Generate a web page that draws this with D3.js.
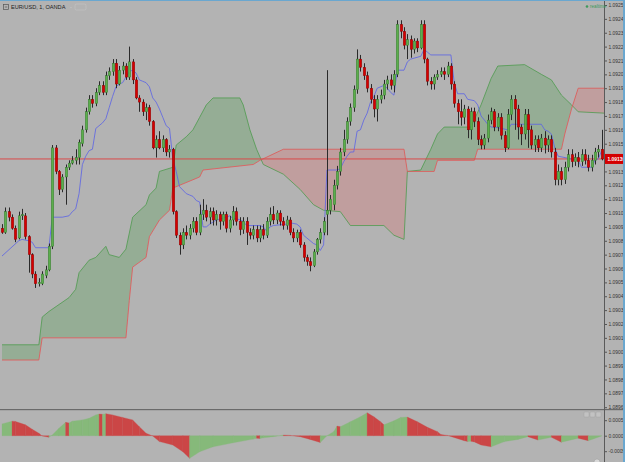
<!DOCTYPE html>
<html>
<head>
<meta charset="utf-8">
<script src="https://cdnjs.cloudflare.com/ajax/libs/d3/7.8.5/d3.min.js"></script>
<style>
  html, body { margin: 0; padding: 0; background: #b3b3b3; }
  svg { display: block; font-family: "Liberation Sans", Arial, sans-serif; }
</style>
</head>
<body>
<svg id="chart"></svg>
<script>
// EUR/USD 1 minute candles (OANDA)
const opens = [
  1.09089,1.09086,1.09101,1.09097,1.09089,1.09082,1.09098,1.09098,1.09083,1.09070,
  1.09056,1.09049,1.09049,1.09055,1.09059,1.09076,1.09147,1.09130,1.09117,1.09126,
  1.09133,1.09136,1.09138,1.09140,1.09150,1.09160,1.09173,1.09182,1.09179,1.09187,
  1.09192,1.09187,1.09199,1.09202,1.09208,1.09193,1.09203,1.09206,1.09198,1.09209,
  1.09196,1.09183,1.09180,1.09173,1.09176,1.09166,1.09147,1.09153,1.09147,1.09153,
  1.09144,1.09146,1.09101,1.09084,1.09077,1.09086,1.09084,1.09089,1.09094,1.09086,
  1.09099,1.09102,1.09097,1.09101,1.09095,1.09099,1.09094,1.09099,1.09089,1.09095,
  1.09101,1.09094,1.09088,1.09094,1.09086,1.09084,1.09088,1.09082,1.09088,1.09084,
  1.09094,1.09099,1.09095,1.09100,1.09094,1.09091,1.09095,1.09086,1.09082,1.09086,
  1.09077,1.09068,1.09065,1.09062,1.09072,1.09081,1.09086,1.09099,1.09102,1.09106,
  1.09120,1.09130,1.09144,1.09153,1.09166,1.09176,1.09189,1.09211,1.09205,1.09199,
  1.09190,1.09182,1.09175,1.09182,1.09185,1.09193,1.09196,1.09192,1.09200,1.09236,
  1.09231,1.09221,1.09225,1.09218,1.09224,1.09219,1.09236,1.09211,1.09195,1.09193,
  1.09198,1.09200,1.09202,1.09200,1.09206,1.09193,1.09179,1.09173,1.09169,1.09175,
  1.09160,1.09173,1.09166,1.09153,1.09149,1.09154,1.09167,1.09173,1.09162,1.09169,
  1.09156,1.09147,1.09171,1.09182,1.09175,1.09162,1.09157,1.09171,1.09160,1.09149,
  1.09153,1.09147,1.09154,1.09149,1.09153,1.09144,1.09124,1.09130,1.09124,1.09133,
  1.09142,1.09137,1.09140,1.09137,1.09142,1.09138,1.09133,1.09138,1.09144,1.09146
];
const closes = [
  1.09086,1.09101,1.09097,1.09089,1.09081,1.09098,1.09099,1.09083,1.09070,1.09056,
  1.09049,1.09050,1.09056,1.09059,1.09076,1.09147,1.09130,1.09117,1.09126,1.09133,
  1.09136,1.09138,1.09140,1.09151,1.09160,1.09173,1.09182,1.09179,1.09187,1.09192,
  1.09187,1.09199,1.09202,1.09208,1.09193,1.09203,1.09206,1.09198,1.09209,1.09196,
  1.09183,1.09180,1.09173,1.09176,1.09166,1.09147,1.09153,1.09147,1.09153,1.09144,
  1.09146,1.09101,1.09084,1.09077,1.09086,1.09084,1.09089,1.09094,1.09086,1.09099,
  1.09102,1.09097,1.09101,1.09095,1.09099,1.09094,1.09099,1.09089,1.09095,1.09101,
  1.09094,1.09088,1.09094,1.09086,1.09084,1.09088,1.09082,1.09088,1.09084,1.09094,
  1.09099,1.09095,1.09100,1.09094,1.09091,1.09095,1.09086,1.09082,1.09086,1.09077,
  1.09068,1.09065,1.09062,1.09072,1.09081,1.09086,1.09094,1.09102,1.09110,1.09120,
  1.09130,1.09144,1.09153,1.09166,1.09176,1.09189,1.09211,1.09205,1.09199,1.09190,
  1.09182,1.09175,1.09182,1.09185,1.09193,1.09196,1.09192,1.09200,1.09236,1.09231,
  1.09221,1.09225,1.09218,1.09224,1.09219,1.09236,1.09211,1.09195,1.09193,1.09198,
  1.09200,1.09202,1.09200,1.09206,1.09193,1.09179,1.09173,1.09169,1.09175,1.09160,
  1.09173,1.09166,1.09153,1.09149,1.09154,1.09167,1.09173,1.09162,1.09169,1.09156,
  1.09147,1.09171,1.09182,1.09175,1.09162,1.09157,1.09171,1.09160,1.09149,1.09153,
  1.09147,1.09154,1.09149,1.09153,1.09144,1.09124,1.09130,1.09124,1.09133,1.09142,
  1.09137,1.09140,1.09137,1.09142,1.09138,1.09133,1.09138,1.09144,1.09146,1.09139
];
const highs = [
  1.09092,1.09104,1.09104,1.09099,1.09091,1.09101,1.09103,1.09100,1.09084,1.09071,
  1.09058,1.09053,1.09058,1.09062,1.09078,1.09149,1.09149,1.09131,1.09128,1.09135,
  1.09138,1.09141,1.09146,1.09153,1.09163,1.09176,1.09185,1.09185,1.09190,1.09195,
  1.09195,1.09202,1.09205,1.09211,1.09211,1.09206,1.09209,1.09208,1.09220,1.09211,
  1.09198,1.09185,1.09182,1.09179,1.09178,1.09167,1.09156,1.09159,1.09156,1.09154,
  1.09149,1.09147,1.09102,1.09086,1.09089,1.09091,1.09092,1.09097,1.09097,1.09106,
  1.09110,1.09106,1.09104,1.09104,1.09102,1.09101,1.09101,1.09101,1.09098,1.09105,
  1.09104,1.09097,1.09097,1.09097,1.09089,1.09091,1.09091,1.09091,1.09092,1.09097,
  1.09104,1.09105,1.09102,1.09102,1.09097,1.09098,1.09097,1.09089,1.09088,1.09088,
  1.09079,1.09070,1.09068,1.09074,1.09082,1.09089,1.09097,1.09203,1.09113,1.09124,
  1.09134,1.09147,1.09160,1.09169,1.09179,1.09192,1.09218,1.09214,1.09208,1.09202,
  1.09193,1.09185,1.09185,1.09189,1.09196,1.09199,1.09200,1.09203,1.09239,1.09239,
  1.09234,1.09229,1.09228,1.09226,1.09226,1.09239,1.09239,1.09212,1.09198,1.09200,
  1.09203,1.09205,1.09205,1.09209,1.09208,1.09195,1.09182,1.09182,1.09178,1.09177,
  1.09176,1.09176,1.09169,1.09156,1.09157,1.09171,1.09176,1.09175,1.09172,1.09172,
  1.09159,1.09175,1.09185,1.09185,1.09178,1.09164,1.09175,1.09175,1.09163,1.09156,
  1.09156,1.09157,1.09159,1.09156,1.09156,1.09147,1.09135,1.09133,1.09137,1.09146,
  1.09146,1.09143,1.09144,1.09146,1.09146,1.09142,1.09142,1.09147,1.09149,1.09160
];
const lows = [
  1.09085,1.09085,1.09094,1.09088,1.09079,1.09081,1.09095,1.09081,1.09057,1.09053,
  1.09046,1.09047,1.09048,1.09053,1.09058,1.09074,1.09128,1.09113,1.09115,1.09106,
  1.09131,1.09135,1.09135,1.09135,1.09148,1.09158,1.09171,1.09176,1.09177,1.09185,
  1.09185,1.09185,1.09196,1.09199,1.09190,1.09192,1.09200,1.09196,1.09196,1.09193,
  1.09182,1.09173,1.09170,1.09167,1.09163,1.09146,1.09140,1.09146,1.09144,1.09141,
  1.09140,1.09099,1.09082,1.09070,1.09074,1.09081,1.09081,1.09086,1.09084,1.09084,
  1.09095,1.09094,1.09092,1.09091,1.09091,1.09088,1.09091,1.09086,1.09086,1.09091,
  1.09091,1.09084,1.09085,1.09077,1.09081,1.09081,1.09079,1.09079,1.09081,1.09082,
  1.09091,1.09092,1.09092,1.09091,1.09088,1.09088,1.09084,1.09079,1.09079,1.09075,
  1.09065,1.09062,1.09058,1.09061,1.09070,1.09078,1.09084,1.09084,1.09099,1.09102,
  1.09117,1.09127,1.09141,1.09150,1.09163,1.09173,1.09186,1.09202,1.09196,1.09187,
  1.09179,1.09169,1.09166,1.09179,1.09182,1.09189,1.09189,1.09187,1.09198,1.09226,
  1.09218,1.09211,1.09212,1.09215,1.09216,1.09218,1.09208,1.09192,1.09189,1.09189,
  1.09196,1.09198,1.09196,1.09198,1.09189,1.09176,1.09164,1.09163,1.09164,1.09154,
  1.09153,1.09162,1.09149,1.09146,1.09146,1.09151,1.09164,1.09159,1.09159,1.09153,
  1.09144,1.09146,1.09167,1.09160,1.09153,1.09149,1.09153,1.09147,1.09146,1.09144,
  1.09144,1.09144,1.09143,1.09144,1.09140,1.09120,1.09120,1.09120,1.09121,1.09130,
  1.09133,1.09134,1.09133,1.09134,1.09135,1.09130,1.09130,1.09135,1.09140,1.09138
];

// Ichimoku: conversion line and the two leading spans, [bar, price]
const tenkan = [
  [0,1.09069],[5,1.09080],[6,1.09081],[8,1.09080],[9,1.09079],[10,1.09075],[14,1.09075],[15,1.09097],[18,1.09097],
  [20,1.09098],[21,1.09101],[22,1.09103],[23,1.09114],[24,1.09135],[25,1.09141],[26,1.09145],[27,1.09146],[28,1.09161],
  [30,1.09165],[31,1.09168],[32,1.09176],[33,1.09184],[34,1.09191],[35,1.09193],[36,1.09194],[37,1.09198],[38,1.09202],
  [39,1.09203],[40,1.09201],[41,1.09196],[42,1.09195],[43,1.09194],[44,1.09191],[45,1.09183],[46,1.09180],[47,1.09175],
  [48,1.09169],[49,1.09163],[50,1.09161],[51,1.09139],[52,1.09130],[53,1.09119],[55,1.09114],[56,1.09113],[57,1.09112],
  [58,1.09109],[59,1.09108],[60,1.09090],[61,1.09090],[62,1.09092],[64,1.09095],[67,1.09097],[68,1.09098],[69,1.09096],
  [70,1.09096],[72,1.09094],[73,1.09091],[77,1.09091],[78,1.09090],[79,1.09087],[80,1.09090],[81,1.09091],[85,1.09092],
  [86,1.09093],[88,1.09092],[89,1.09090],[90,1.09084],[91,1.09082],[93,1.09078],[94,1.09077],[95,1.09073],[96,1.09077],
  [97,1.09131],[100,1.09131],[101,1.09132],[102,1.09137],[103,1.09141],[104,1.09144],[105,1.09144],
  [106,1.09159],[107,1.09160],[108,1.09167],[109,1.09172],[110,1.09180],[111,1.09184],[112,1.09190],[114,1.09192],[115,1.09190],
  [116,1.09187],[117,1.09185],[118,1.09203],[120,1.09203],[121,1.09209],[122,1.09211],[125,1.09213],[126,1.09218],[127,1.09216],
  [128,1.09214],[134,1.09214],[135,1.09194],[136,1.09186],[138,1.09186],[139,1.09182],[141,1.09181],[142,1.09178],[143,1.09170],
  [145,1.09164],[146,1.09162],[147,1.09162],[149,1.09161],[151,1.09160],[152,1.09164],[161,1.09164],[162,1.09160],[163,1.09159],
  [164,1.09157],[165,1.09147],[166,1.09141],[170,1.09139],[172,1.09138],[173,1.09133],[176,1.09133],[177,1.09138],[178,1.09139],
  [179,1.09145]
];
const spanA = [
  [0,1.09005],[11,1.09005],[12,1.09025],[14,1.09029],[17,1.09034],[20,1.09039],[22,1.09045],[23,1.09057],[26,1.09066],
  [28,1.09068],[31,1.09076],[32,1.09070],[35,1.09068],[37,1.09074],[39,1.09097],[43,1.09106],[44,1.09113],[46,1.09118],
  [47,1.09130],[51,1.09133],[52,1.09149],[55,1.09155],[57,1.09160],[59,1.09169],[61,1.09178],[63,1.09183],[71,1.09183],
  [72,1.09178],[74,1.09160],[76,1.09146],[78,1.09135],[84,1.09128],[89,1.09117],[93,1.09106],[96,1.09102],[101,1.09101],
  [104,1.09091],[114,1.09091],[117,1.09084],[120,1.09081],[121,1.09130],[125,1.09131],
  [128,1.09146],[130,1.09157],[132,1.09162],[140,1.09162],[143,1.09178],[146,1.09197],[148,1.09206],[156,1.09207],
  [161,1.09200],[164,1.09196],[167,1.09185],[170,1.09178],[172,1.09173],[180,1.09172]
];
const spanB = [
  [0,1.08994],[11,1.08994],[12,1.09010],[37,1.09010],[38,1.09037],[39,1.09061],[43,1.09068],[44,1.09083],[47,1.09095],
  [50,1.09102],[51,1.09118],[59,1.09126],[60,1.09131],[75,1.09135],[77,1.09138],[84,1.09146],[120,1.09146],[121,1.09130],
  [129,1.09130],[130,1.09138],[141,1.09138],[142,1.09146],[167,1.09146],[168,1.09157],[170,1.09175],[172,1.09190],[180,1.09190]
];

// lower pane oscillator, [bar, value]
const osc = [
  [0,0.00038],[3,0.00047],[4,0.00046],[7,0.00035],[9,0.00021],[11,0.00008],[12,-0.00001],[14,-0.00005],[15,0.00002],
  [17,0.00024],[19,0.00043],[20,0.00041],[21,0.00047],[24,0.00051],[26,0.00056],[28,0.00067],[29,0.00070],[30,0.00069],
  [31,0.00071],[33,0.00067],[36,0.00059],[39,0.00051],[41,0.00029],[43,0.00008],[45,-0.00001],[47,-0.00019],[51,-0.00030],
  [54,-0.00052],[56,-0.00073],[59,-0.00052],[63,-0.00036],[69,-0.00023],[75,-0.00011],[76,-0.00008],[77,-0.00009],
  [78,-0.00007],[81,-0.00003],[84,0.00002],[86,0.00001],[89,-0.00003],[92,-0.00012],[95,-0.00022],[97,0.0],[99,0.00013],
  [100,0.00031],[101,0.00029],[104,0.00045],[107,0.00061],[109,0.00074],[111,0.00061],[113,0.00045],[114,0.00035],
  [117,0.00048],[119,0.00059],[121,0.00060],[124,0.00045],[127,0.00027],[130,0.00013],[131,0.00004],[133,0.00001],
  [138,-0.00016],[139,-0.00019],[140,-0.00018],[141,-0.00020],[143,-0.00030],[146,-0.00036],[150,-0.00019],[154,-0.00012],
  [157,-0.00003],[160,-0.00014],[164,-0.00005],[167,-0.00021],[172,-0.00008],[175,-0.00016],[179,-0.00001]
];

const priceTicks = [
  1.0925,1.0924,1.0923,1.0922,1.0921,1.0920,1.0919,1.0918,1.0917,1.0916,
  1.0915,1.0914,1.0913,1.0912,1.0911,1.0910,1.0909,1.0908,1.0907,1.0906,
  1.0905,1.0904,1.0903,1.0902,1.0901,1.0900,1.0899,1.0898,1.0897,1.0896
];
const oscTicks = [0.0005, 0, -0.0005];
const lastPrice = 1.09139;

const W = 625, H = 462;
const plotRight = 604;
const mainBottom = 409;

const svg = d3.select('#chart').attr('width', W).attr('height', H);
const defs = svg.append('defs');

const x = d3.scaleLinear().domain([0, 179]).range([2, 601.65]);
const y = d3.scaleLinear().domain([1.0925, 1.0896]).range([5, 407.2]);
const yOsc = d3.scaleLinear().domain([0.0005, -0.0005]).range([420.2, 451.2]);

svg.append('rect').attr('width', W).attr('height', H).attr('fill', '#b3b3b3');

defs.append('clipPath').attr('id', 'mainClip')
  .append('rect').attr('x', 0).attr('y', 0).attr('width', plotRight).attr('height', mainBottom);
defs.append('clipPath').attr('id', 'oscClip')
  .append('rect').attr('x', 0).attr('y', mainBottom + 1).attr('width', plotRight).attr('height', H - mainBottom);

const main = svg.append('g').attr('clip-path', 'url(#mainClip)');

// cloud: one polygon A -> B reversed, split by the B line
const ptsA = spanA.map(d => [x(d[0]), y(d[1])]);
const ptsB = spanB.map(d => [x(d[0]), y(d[1])]);
const line = d3.line();
const cx0 = ptsB[0][0], cxN = ptsB[ptsB.length - 1][0];
defs.append('clipPath').attr('id', 'aboveB')
  .append('path').attr('d', line([[cx0, 0], ...ptsB, [cxN, 0]]) + 'Z');
defs.append('clipPath').attr('id', 'belowB')
  .append('path').attr('d', line([[cx0, mainBottom], ...ptsB, [cxN, mainBottom]]) + 'Z');
const cloud = line([...ptsA, ...ptsB.slice().reverse()]) + 'Z';

main.append('path').attr('d', cloud).attr('clip-path', 'url(#aboveB)')
  .attr('fill', 'rgba(70,160,70,0.27)');
main.append('path').attr('d', cloud).attr('clip-path', 'url(#belowB)')
  .attr('fill', 'rgba(235,90,90,0.24)');
main.append('path').attr('d', line(ptsA)).attr('fill', 'none')
  .attr('stroke', '#4e9a4e').attr('stroke-width', 0.8);
main.append('path').attr('d', line(ptsB)).attr('fill', 'none')
  .attr('stroke', '#e25656').attr('stroke-width', 0.8);

// last price line
main.append('line')
  .attr('x1', 0).attr('x2', plotRight)
  .attr('y1', y(lastPrice)).attr('y2', y(lastPrice))
  .attr('stroke', '#d94a4a').attr('stroke-width', 1);

// conversion line
main.append('path')
  .attr('d', d3.line().x(d => x(d[0])).y(d => y(d[1]))(tenkan))
  .attr('fill', 'none').attr('stroke', '#5a62e6').attr('stroke-width', 0.8);

// candles
const idx = d3.range(opens.length);
const cxPix = i => Math.round(x(i)) + 0.5;
main.selectAll('.wick').data(idx).join('line')
  .attr('class', 'wick')
  .attr('x1', cxPix).attr('x2', cxPix)
  .attr('y1', i => y(highs[i])).attr('y2', i => y(lows[i]))
  .attr('stroke', '#2a2a2a').attr('stroke-width', 1);
main.selectAll('.body').data(idx).join('rect')
  .attr('class', 'body')
  .attr('x', i => cxPix(i) - 1.25)
  .attr('width', 2.5)
  .attr('y', i => Math.min(y(opens[i]), y(closes[i])))
  .attr('height', i => Math.max(1, Math.abs(y(opens[i]) - y(closes[i]))))
  .attr('fill', i => closes[i] >= opens[i] ? '#5cae4c' : '#d60000')
  .attr('stroke', i => closes[i] >= opens[i] ? '#2f6e2a' : '#7d0000')
  .attr('stroke-width', 0.4);

// lower pane: area coloured by direction
const oscG = svg.append('g').attr('clip-path', 'url(#oscClip)');
const zeroY = yOsc(0);
for (let k = 1; k < osc.length; k++) {
  const a = osc[k - 1], b = osc[k];
  oscG.append('path')
    .attr('d', line([[x(a[0]), zeroY], [x(a[0]), yOsc(a[1])], [x(b[0]), yOsc(b[1])], [x(b[0]), zeroY]]) + 'Z')
    .attr('fill', b[1] >= a[1] ? '#86b97a' : '#cb4646')
    .attr('stroke', b[1] >= a[1] ? '#86b97a' : '#cb4646')
    .attr('stroke-width', 0.3);
}

// price axis
const axisG = svg.append('g').attr('transform', `translate(${plotRight},0)`)
  .call(d3.axisRight(y).tickValues(priceTicks).tickSize(3).tickPadding(1.5)
    .tickFormat(d => d.toFixed(5)));
axisG.select('.domain').remove();
axisG.selectAll('line').attr('stroke', '#555');
axisG.selectAll('text').attr('font-size', 4.9).attr('fill', '#333')
  .attr('font-family', '"Liberation Sans", Arial, sans-serif');

const oscAxis = svg.append('g').attr('transform', `translate(${plotRight},0)`)
  .call(d3.axisRight(yOsc).tickValues(oscTicks).tickSize(3).tickPadding(1.5)
    .tickFormat(d => d.toFixed(4)));
oscAxis.select('.domain').remove();
oscAxis.selectAll('line').attr('stroke', '#555');
oscAxis.selectAll('text').attr('font-size', 4.9).attr('fill', '#333')
  .attr('font-family', '"Liberation Sans", Arial, sans-serif');

// pane separator and axis line
svg.append('rect').attr('x', 0).attr('y', mainBottom).attr('width', W).attr('height', 1.2).attr('fill', '#6a6a6a');
svg.append('line').attr('x1', plotRight + 0.5).attr('x2', plotRight + 0.5).attr('y1', 0).attr('y2', H)
  .attr('stroke', '#5a5a5a').attr('stroke-width', 1);

// last price label
const lp = y(lastPrice);
svg.append('rect').attr('x', plotRight + 1).attr('y', lp - 5).attr('width', W - plotRight - 3).attr('height', 10)
  .attr('fill', '#d40000');
svg.append('text').attr('x', plotRight + 3.5).attr('y', lp + 1.8).text(lastPrice.toFixed(5))
  .attr('font-size', 4.9).attr('font-weight', 'bold').attr('fill', '#fff');

// header
svg.append('rect').attr('x', 3.5).attr('y', 4.5).attr('width', 5).attr('height', 5)
  .attr('fill', 'none').attr('stroke', '#555').attr('stroke-width', 0.7);
svg.append('line').attr('x1', 4.8).attr('x2', 7.2).attr('y1', 7).attr('y2', 7).attr('stroke', '#555').attr('stroke-width', 0.7);
svg.append('text').attr('x', 11).attr('y', 9.2).text('EUR/USD, 1, OANDA')
  .attr('font-size', 5.6).attr('fill', '#222');
svg.append('text').attr('x', 70).attr('y', 9.2).text('-').attr('font-size', 5.6).attr('fill', '#cfcfcf');
svg.append('rect').attr('x', 75).attr('y', 4).attr('width', 11).attr('height', 6).attr('rx', 1.5)
  .attr('fill', 'none').attr('stroke', '#c6c6c6').attr('stroke-width', 0.6);

svg.append('circle').attr('cx', 587).attr('cy', 6.5).attr('r', 1.3).attr('fill', '#3d9a5c');
svg.append('text').attr('x', 590).attr('y', 8.2).text('realtime')
  .attr('font-size', 4.6).attr('fill', '#3d9a5c');

// pane buttons
[584, 590, 596].forEach(bx => {
  svg.append('rect').attr('x', bx).attr('y', 412).attr('width', 5).attr('height', 5).attr('rx', 0.8)
    .attr('fill', '#c2c2c2').attr('stroke', '#a4a4a4').attr('stroke-width', 0.5);
});
svg.append('circle').attr('cx', 597).attr('cy', 462).attr('r', 3).attr('fill', '#d8d8d8').attr('stroke', '#999').attr('stroke-width', 0.5);

// window frame
svg.append('rect').attr('x', 0).attr('y', 0).attr('width', W).attr('height', 1).attr('fill', '#6aa7cf');
svg.append('rect').attr('x', W - 2).attr('y', 0).attr('width', 2).attr('height', H).attr('fill', '#6aa7cf');
</script>
</body>
</html>
